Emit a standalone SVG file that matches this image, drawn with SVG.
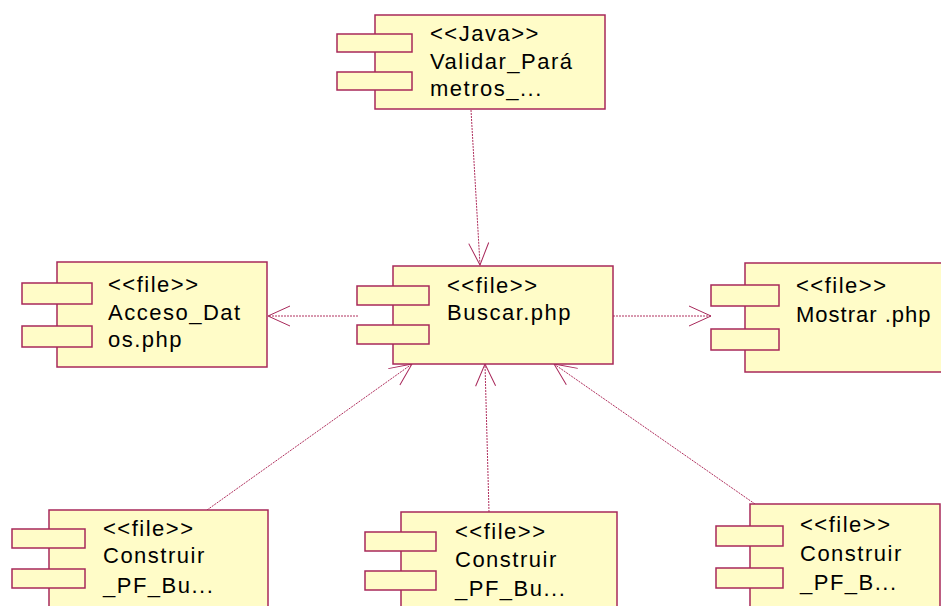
<svg xmlns="http://www.w3.org/2000/svg" width="941" height="606" viewBox="0 0 941 606">
<style>
.body{fill:#FFFCC8;stroke:#A8285A;stroke-width:1.5}
.port{fill:#FFFCC8;stroke:#A8285A;stroke-width:1.5}
.t{font-family:"Liberation Sans",Arial,sans-serif;font-size:22px;letter-spacing:1.5px;fill:#000}
.c{fill:none;stroke:#B0305E;stroke-width:1;stroke-dasharray:2,1}
</style>
<defs>
<marker id="arr" viewBox="0 0 24 22" refX="23" refY="11" markerWidth="24" markerHeight="22" markerUnits="userSpaceOnUse" orient="auto">
<path d="M1,1 L23,11 L1,21" fill="none" stroke="#A8285A" stroke-width="1"/>
</marker>
</defs>
<rect width="941" height="606" fill="#fff"/>
<g id="connectors">
<line class="c" x1="471" y1="110" x2="480" y2="265" marker-end="url(#arr)"/>
<line class="c" x1="358" y1="316" x2="268" y2="316" marker-end="url(#arr)"/>
<line class="c" x1="613" y1="316" x2="711" y2="316" marker-end="url(#arr)"/>
<line class="c" x1="207" y1="510" x2="412" y2="364" marker-end="url(#arr)"/>
<line class="c" x1="489" y1="512" x2="485" y2="364" marker-end="url(#arr)"/>
<line class="c" x1="755" y1="504" x2="554" y2="364" marker-end="url(#arr)"/>
</g>
<g id="validar">
<rect class="body" x="375" y="15" width="230" height="94"/>
<rect class="port" x="337" y="34" width="75" height="18"/>
<rect class="port" x="337" y="72" width="75" height="18"/>
<text class="t" x="430" y="41">&lt;&lt;Java&gt;&gt;</text>
<text class="t" x="430" y="69">Validar_Pará</text>
<text class="t" x="430" y="96">metros_...</text>
</g>
<g id="acceso">
<rect class="body" x="57" y="262" width="210" height="105"/>
<rect class="port" x="22" y="283" width="70" height="21"/>
<rect class="port" x="22" y="326" width="70" height="21"/>
<text class="t" x="108" y="292">&lt;&lt;file&gt;&gt;</text>
<text class="t" x="108" y="320">Acceso_Dat</text>
<text class="t" x="108" y="347">os.php</text>
</g>
<g id="buscar">
<rect class="body" x="393" y="266" width="220" height="98"/>
<rect class="port" x="357" y="286" width="72" height="19"/>
<rect class="port" x="357" y="325" width="72" height="19"/>
<text class="t" x="447" y="293">&lt;&lt;file&gt;&gt;</text>
<text class="t" x="447" y="320">Buscar.php</text>
</g>
<g id="mostrar">
<rect class="body" x="745" y="263" width="210" height="109"/>
<rect class="port" x="711" y="285" width="68" height="21"/>
<rect class="port" x="711" y="329" width="68" height="21"/>
<text class="t" x="796" y="293">&lt;&lt;file&gt;&gt;</text>
<text class="t" x="796" y="322" style="letter-spacing:1px">Mostrar .php</text>
</g>
<g id="construir1">
<rect class="body" x="49" y="510" width="219" height="110"/>
<rect class="port" x="12" y="529" width="73" height="19"/>
<rect class="port" x="12" y="569" width="73" height="19"/>
<text class="t" x="103" y="536">&lt;&lt;file&gt;&gt;</text>
<text class="t" x="103" y="563">Construir</text>
<text class="t" x="103" y="593">_PF_Bu...</text>
</g>
<g id="construir2">
<rect class="body" x="401" y="512" width="216" height="110"/>
<rect class="port" x="365" y="532" width="71" height="19"/>
<rect class="port" x="365" y="571" width="71" height="19"/>
<text class="t" x="455" y="539">&lt;&lt;file&gt;&gt;</text>
<text class="t" x="455" y="567">Construir</text>
<text class="t" x="455" y="596">_PF_Bu...</text>
</g>
<g id="construir3">
<rect class="body" x="750" y="504" width="190" height="110"/>
<rect class="port" x="716" y="526" width="67" height="20"/>
<rect class="port" x="716" y="568" width="67" height="20"/>
<text class="t" x="800" y="532">&lt;&lt;file&gt;&gt;</text>
<text class="t" x="800" y="561">Construir</text>
<text class="t" x="800" y="590">_PF_B...</text>
</g>
</svg>
